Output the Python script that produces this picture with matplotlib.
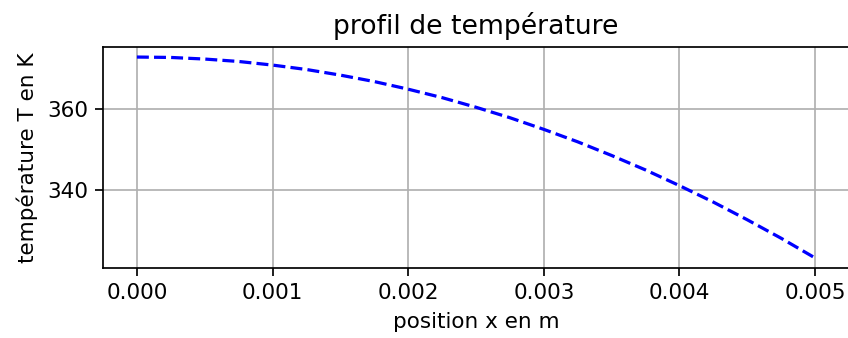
import numpy as np
import matplotlib
matplotlib.use("Agg")
import matplotlib.pyplot as plt

# temperature profile
x_pos = [0.0, 0.00025, 0.0005, 0.00075, 0.001, 0.00125, 0.0015, 0.00175,
         0.002, 0.00225, 0.0025, 0.00275, 0.003, 0.00325, 0.0035, 0.00375,
         0.004, 0.00425, 0.0045, 0.00475, 0.005]
temp = [373.0, 372.9, 372.5, 371.9, 371.0, 369.9, 368.5, 366.9,
        365.0, 362.9, 360.5, 357.9, 355.0, 351.9, 348.5, 344.9,
        341.0, 336.9, 332.5, 327.9, 323.0]

x_ticks = [0.0, 0.001, 0.002, 0.003, 0.004, 0.005]
y_ticks = [340, 360]

dpi = 155
fig = plt.figure(figsize=(848 / dpi, 338 / dpi), dpi=dpi)
ax = fig.add_axes([103 / 848, 1 - 268 / 338, 746 / 848, 221 / 338])

ax.plot(x_pos, temp, 'b--')
ax.set_xticks(x_ticks)
ax.set_xticklabels([f'{t:.3f}' for t in x_ticks])
ax.set_yticks(y_ticks)
ax.grid(True)
# the reference picture is cropped right at the right spine
ax.spines['right'].set_visible(False)

ax.set_title('profil de température', fontsize=12.4)
ax.set_xlabel('position x en m')
ax.set_ylabel('température T en K')

fig.savefig('out.png', dpi=dpi)
